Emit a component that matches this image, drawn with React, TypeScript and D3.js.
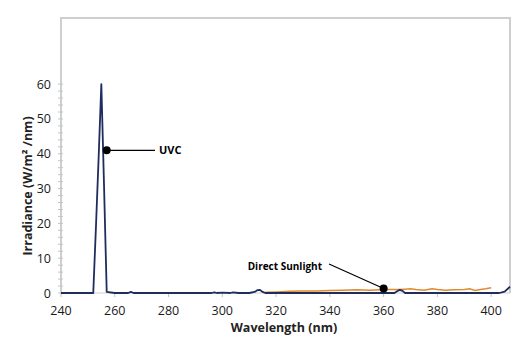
import React, { useEffect, useRef } from "react";
import * as d3 from "d3";

// UVC lamp spectrum (nm, W/m²/nm)
const uvcWavelengths = [
  240, 250, 252, 253, 254, 255, 256, 257, 260, 265, 266, 267, 275, 290, 296, 297, 298, 300, 303, 304, 306,
  310, 312, 313, 314, 315, 316, 320, 340, 360, 364, 365, 366, 367, 368, 380, 400, 403, 405, 407,
];
const uvcValues = [
  0, 0, 0, 19, 39, 60, 31, 0.3, 0, 0, 0.3, 0, 0, 0, 0, 0.2, 0, 0.1, 0, 0.2, 0,
  0, 0.3, 0.8, 0.9, 0.3, 0, 0, 0, 0, 0, 0.5, 0.9, 0.6, 0, 0, 0, 0, 0.4, 1.8,
];

// Direct sunlight spectrum
const sunWavelengths = [
  316, 320, 325, 330, 335, 340, 345, 350, 355, 360, 365, 368, 370, 372, 375, 378, 380, 383, 386, 390, 392,
  394, 396, 398, 400,
];
const sunValues = [
  0.2, 0.3, 0.5, 0.6, 0.6, 0.7, 0.8, 0.9, 0.8, 1.0, 1.0, 1.1, 1.2, 1.0, 0.8, 1.2, 1.0, 0.8, 0.9, 1.0, 1.2,
  0.7, 1.0, 1.2, 1.5,
];

const xTicks = [240, 260, 280, 300, 320, 340, 360, 380, 400];
const yTicks = [0, 10, 20, 30, 40, 50, 60];
const yMinorTicks = d3.range(0, 62, 2);

const FONT = "'Open Sans', sans-serif";

const App: React.FC = () => {
  const svgRef = useRef<SVGSVGElement>(null);

  useEffect(() => {
    document.body.style.margin = "0";
    if (!svgRef.current) return;
    const svg = d3.select(svgRef.current);
    svg.selectAll("*").remove();

    const x = d3.scaleLinear().domain([240, 407]).range([61, 510]);
    const y = d3.scaleLinear().domain([0, 79]).range([293, 18]);

    // frame
    svg
      .append("path")
      .attr("d", `M${x(240)},${y(0)}V${y(79)}H${x(407)}V${y(0)}`)
      .attr("fill", "none")
      .attr("stroke", "#cfcfcf")
      .attr("stroke-width", 2);
    svg
      .append("line")
      .attr("x1", x(240))
      .attr("x2", x(407))
      .attr("y1", y(0))
      .attr("y2", y(0))
      .attr("stroke", "#cfcfcf")
      .attr("stroke-width", 1);

    // y ticks
    svg
      .selectAll(".minor")
      .data(yMinorTicks)
      .join("line")
      .attr("x1", x(240) - 3)
      .attr("x2", x(240) + 2)
      .attr("y1", (d) => y(d))
      .attr("y2", (d) => y(d))
      .attr("stroke", "#c4c4c4")
      .attr("stroke-width", 1);

    svg
      .selectAll(".ylab")
      .data(yTicks)
      .join("text")
      .attr("x", 51)
      .attr("y", (d) => y(d) + 4.5)
      .attr("text-anchor", "end")
      .style("font-family", FONT)
      .style("font-size", "12.5px")
      .attr("fill", "#1a1a1a")
      .text((d) => d);

    // x ticks
    svg
      .selectAll(".xtick")
      .data(xTicks)
      .join("line")
      .attr("x1", (d) => x(d))
      .attr("x2", (d) => x(d))
      .attr("y1", y(0))
      .attr("y2", y(0) + 4)
      .attr("stroke", "#c4c4c4");

    svg
      .selectAll(".xlab")
      .data(xTicks)
      .join("text")
      .attr("x", (d) => x(d))
      .attr("y", 315)
      .attr("text-anchor", "middle")
      .style("font-family", FONT)
      .style("font-size", "12.5px")
      .attr("fill", "#1a1a1a")
      .text((d) => d);

    // axis titles
    svg
      .append("text")
      .attr("x", 284)
      .attr("y", 332)
      .attr("text-anchor", "middle")
      .style("font-family", FONT)
      .style("font-size", "12.5px")
      .style("font-weight", "bold")
      .attr("fill", "#222")
      .text("Wavelength (nm)");

    svg
      .append("text")
      .attr("transform", "translate(32,186) rotate(-90)")
      .attr("text-anchor", "middle")
      .style("font-family", FONT)
      .style("font-size", "12.5px")
      .style("font-weight", "bold")
      .attr("fill", "#222")
      .text("Irradiance (W/m² /nm)");

    const line = d3
      .line<[number, number]>()
      .x((d) => x(d[0]))
      .y((d) => y(d[1]));

    const sunData = sunWavelengths.map((w, i) => [w, sunValues[i]] as [number, number]);
    const uvcData = uvcWavelengths.map((w, i) => [w, uvcValues[i]] as [number, number]);

    svg
      .append("path")
      .attr("d", line(sunData) || "")
      .attr("fill", "none")
      .attr("stroke", "#e08a2e")
      .attr("stroke-width", 1.5);

    svg
      .append("path")
      .attr("d", line(uvcData) || "")
      .attr("fill", "none")
      .attr("stroke", "#1e2d5c")
      .attr("stroke-width", 1.8)
      .attr("stroke-linejoin", "round");

    // annotations
    const uvcDot: [number, number] = [257, 41];
    svg
      .append("line")
      .attr("x1", x(uvcDot[0]))
      .attr("y1", y(uvcDot[1]))
      .attr("x2", 155)
      .attr("y2", y(uvcDot[1]))
      .attr("stroke", "#000")
      .attr("stroke-width", 1.2);
    svg
      .append("circle")
      .attr("cx", x(uvcDot[0]))
      .attr("cy", y(uvcDot[1]))
      .attr("r", 4)
      .attr("fill", "#000");
    svg
      .append("text")
      .attr("x", 159)
      .attr("y", y(uvcDot[1]) + 4)
      .style("font-family", FONT)
      .style("font-size", "11px")
      .style("font-weight", "bold")
      .attr("fill", "#000")
      .text("UVC");

    const sunDot: [number, number] = [360, 1.3];
    svg
      .append("line")
      .attr("x1", 329)
      .attr("y1", 264)
      .attr("x2", x(sunDot[0]))
      .attr("y2", y(sunDot[1]))
      .attr("stroke", "#000")
      .attr("stroke-width", 1.2);
    svg
      .append("circle")
      .attr("cx", x(sunDot[0]))
      .attr("cy", y(sunDot[1]))
      .attr("r", 4)
      .attr("fill", "#000");
    svg
      .append("text")
      .attr("x", 322)
      .attr("y", 270)
      .attr("text-anchor", "end")
      .style("font-family", FONT)
      .style("font-size", "10px")
      .style("font-weight", "bold")
      .attr("fill", "#000")
      .text("Direct Sunlight");
  }, []);

  return <svg ref={svgRef} width={529} height={352} style={{ display: "block" }}></svg>;
};

export default App;
